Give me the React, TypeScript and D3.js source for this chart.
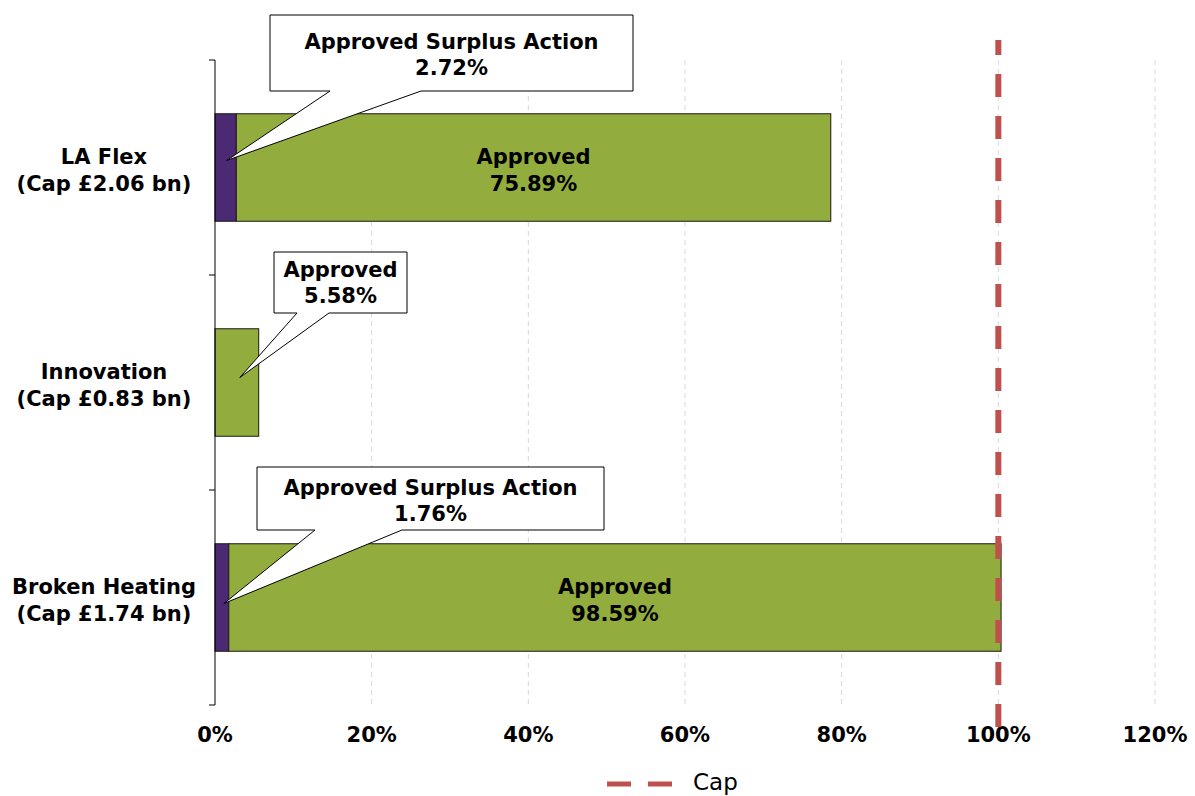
import React from "react";
import * as d3 from "d3";

const categories = ["LA Flex", "Innovation", "Broken Heating"];
const capLabels = ["(Cap £2.06 bn)", "(Cap £0.83 bn)", "(Cap £1.74 bn)"];
const surplusAction = [2.72, 0, 1.76];
const approved = [75.89, 5.58, 98.59];
const xTicks = [0, 20, 40, 60, 80, 100, 120];
const capValue = 100;
const seriesKeys = ["Approved Surplus Action", "Approved"];

const W = 1195;
const H = 796;
const FONT = "Verdana, 'DejaVu Sans', sans-serif";
const GREEN = "#92ad3d";
const PURPLE = "#4b2a73";
const RED = "#c0504d";

// callout layout: box rectangle and wedge base positions (layout only)
const calloutLayout = [
  { cat: 0, key: "Approved Surplus Action", box: [270, 15, 363, 76], base: [330, 421], tipDx: 1, tipDy: -7, lines: [49, 75] },
  { cat: 1, key: "Approved", box: [274, 252, 133, 61], base: [297, 329], tipDx: 3, tipDy: -5, lines: [277, 303] },
  { cat: 2, key: "Approved Surplus Action", box: [257, 467, 347, 63], base: [315, 402], tipDx: 2, tipDy: 6, lines: [495, 521] },
];

export default function App() {
  const x = d3.scaleLinear().domain([0, 120]).range([215, 1155]);
  const y = d3.scaleBand<string>().domain(categories).range([60, 705]).paddingInner(0.5).paddingOuter(0.25);
  const step = y.step();
  const top = 60, bottom = 705;

  const rows = categories.map((c, i) => ({ cat: c, "Approved Surplus Action": surplusAction[i], Approved: approved[i] }));
  const stacked = d3.stack<any>().keys(seriesKeys)(rows);
  const colors: Record<string, string> = { "Approved Surplus Action": PURPLE, Approved: GREEN };

  const bounds = categories.map((_, i) => top + i * step);
  bounds.push(bottom);

  return (
    <svg width={W} height={H} style={{ position: "absolute", left: 0, top: 0, background: "#fff" }} fontFamily={FONT}>
      {/* gridlines */}
      {xTicks.filter((t) => t > 0).map((t) => (
        <line key={"g" + t} x1={x(t)} x2={x(t)} y1={top} y2={bottom} stroke="#d9d9d9" strokeWidth={1} strokeDasharray="5,4" />
      ))}
      {/* bars */}
      {stacked.map((s) => (
        <g key={s.key}>
          {s.map((d, i) =>
            d[1] - d[0] > 0 ? (
              <rect key={i} x={x(d[0])} y={y(categories[i])!} width={x(d[1]) - x(d[0])} height={y.bandwidth()}
                fill={colors[s.key]} stroke="#1a1a1a" strokeWidth={1} />
            ) : null
          )}
        </g>
      ))}
      {/* in-bar labels for Approved where wide */}
      {stacked[1].map((d, i) => {
        if (x(d[1]) - x(d[0]) < 150) return null;
        const cx = (x(d[0]) + x(d[1])) / 2;
        const cy = y(categories[i])! + y.bandwidth() / 2;
        return (
          <text key={"l" + i} x={cx} textAnchor="middle" fontWeight="bold" fontSize={21} fill="#000">
            <tspan x={cx} y={cy - 4}>Approved</tspan>
            <tspan x={cx} y={cy + 23}>{approved[i].toFixed(2)}%</tspan>
          </text>
        );
      })}
      {/* y axis */}
      <line x1={215} x2={215} y1={top} y2={bottom} stroke="#000" strokeWidth={1} />
      {bounds.map((b, i) => (
        <line key={"t" + i} x1={209} x2={215} y1={b} y2={b} stroke="#000" strokeWidth={1} />
      ))}
      {categories.map((c, i) => {
        const cy = y(c)! + y.bandwidth() / 2;
        return (
          <text key={"c" + i} textAnchor="middle" fontWeight="bold" fontSize={21} fill="#000">
            <tspan x={104} y={cy - 4}>{c}</tspan>
            <tspan x={104} y={cy + 23}>{capLabels[i]}</tspan>
          </text>
        );
      })}
      {/* x tick labels */}
      {xTicks.map((t) => (
        <text key={"x" + t} x={x(t)} y={742} textAnchor="middle" fontWeight="bold" fontSize={21} fill="#000">{t}%</text>
      ))}
      {/* callouts */}
      {calloutLayout.map((c, k) => {
        const si = seriesKeys.indexOf(c.key);
        const d = stacked[si][c.cat];
        const tipX = (x(d[0]) + x(d[1])) / 2 + c.tipDx;
        const tipY = y(categories[c.cat])! + y.bandwidth() / 2 + c.tipDy;
        const [bx, by, bw, bh] = c.box;
        const path = `M${bx},${by}H${bx + bw}V${by + bh}H${c.base[1]}L${tipX},${tipY}L${c.base[0]},${by + bh}H${bx}Z`;
        const val = c.key === "Approved" ? approved[c.cat] : surplusAction[c.cat];
        const cx = bx + bw / 2;
        return (
          <g key={"co" + k}>
            <path d={path} fill="#fff" stroke="#000" strokeWidth={1} />
            <text textAnchor="middle" fontWeight="bold" fontSize={21} fill="#000">
              <tspan x={cx} y={c.lines[0]}>{c.key}</tspan>
              <tspan x={cx} y={c.lines[1]}>{val.toFixed(2)}%</tspan>
            </text>
          </g>
        );
      })}
      {/* cap line */}
      <line x1={x(capValue)} x2={x(capValue)} y1={40} y2={730} stroke={RED} strokeWidth={6} strokeDasharray="23,19" strokeDashoffset={8} />
      {/* legend */}
      <line x1={607} x2={672} y1={784} y2={784} stroke={RED} strokeWidth={5} strokeDasharray="24,17" />
      <text x={693} y={790} fontSize={23} fill="#000">Cap</text>
    </svg>
  );
}
